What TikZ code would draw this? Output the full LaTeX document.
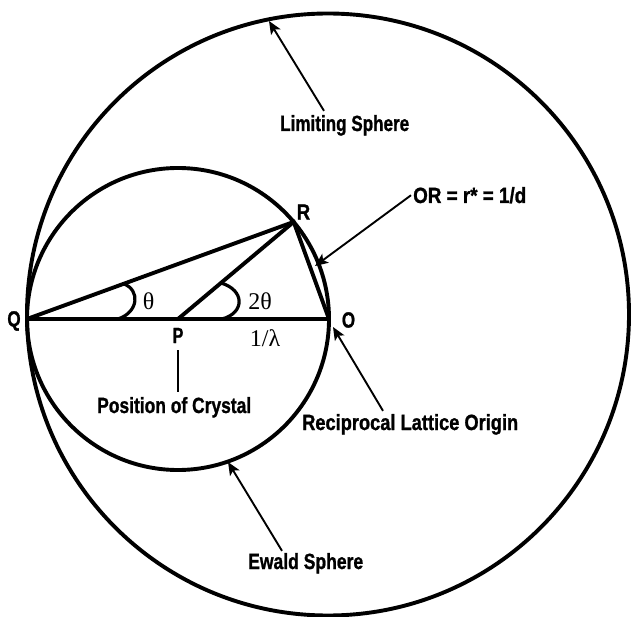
\documentclass[tikz,border=0pt]{standalone}
\usepackage{fontspec}
\setmainfont{Liberation Serif}
\newfontfamily\labfont[FakeBold=1.2]{Liberation Sans}
\usetikzlibrary{arrows.meta}
\newcommand{\lab}[2]{\resizebox{#1}{\height}{\labfont\bfseries\fontsize{22}{26}\selectfont #2}}
\begin{document}
\begin{tikzpicture}[x=1pt,y=-1pt,
  geo/.style={line width=3.9pt, line join=miter},
  anglearc/.style={line width=3.2pt},
  pointer/.style={line width=1.9pt,-{Stealth[length=13pt,width=11pt,inset=3pt]}},
  pline/.style={line width=2.4pt},
  lbl/.style={inner sep=0pt},
  greek/.style={inner sep=0pt, font=\fontsize{24}{28}\selectfont}]
\useasboundingbox (0,0) rectangle (631,617);
% geometry
\coordinate (C) at (328,314.5);
\coordinate (P) at (178,319);
\coordinate (Q) at (27,319);
\coordinate (O) at (329,319);
\coordinate (R) at (293.7,221.9);
\draw[geo] (C) circle (301pt);
\draw[geo] (P) circle (151pt);
\draw[geo] (Q) -- (O);
\draw[geo] (Q) -- (R) -- (O);
\draw[geo] (P) -- (R);
% angle marks
\draw[anglearc] (124,284) .. controls (140,290) and (139,312) .. (118,319);
\draw[anglearc] (221,283) .. controls (245,290) and (245,313) .. (222,319);
\node[greek] (th) at (148.5,301.5) {θ};
\node[greek] (tth) at (260,301) {2θ};
\node[greek] (lam) at (265,338) {1/λ};
% point labels
\node[lbl] (qlab) at (14,321) {\lab{13.3pt}{Q}};
\node[lbl] (rlab) at (303.5,212) {\lab{13.3pt}{R}};
\node[lbl] (olab) at (348.5,320) {\lab{13.3pt}{O}};
\node[lbl] (plab) at (178,335.5) {\lab{10.7pt}{P}};
% text labels
\node[lbl, anchor=base west] (lim) at (280,131) {\lab{129pt}{Limiting Sphere}};
\node[lbl, anchor=base west] (orl) at (413,203) {\lab{113pt}{OR = r* = 1/d}};
\node[lbl, anchor=base west] (rec) at (302,430) {\lab{216pt}{Reciprocal Lattice Origin}};
\node[lbl, anchor=base west] (pos) at (97,413) {\lab{154pt}{Position of Crystal}};
\node[lbl, anchor=base west] (ewl) at (248,569) {\lab{115pt}{Ewald Sphere}};
% arrow tips
\coordinate (limtip) at (269,21);
\coordinate (ortip) at (315,266);
\coordinate (rectip) at (333,327);
\coordinate (ewtip) at (228,462);
\draw[pointer] ([xshift=44pt,yshift=4pt]lim.north west) -- (limtip);
\draw[pointer] ([xshift=-2pt]orl.west) -- (ortip);
\draw[pointer] ([xshift=81pt,yshift=3pt]rec.north west) -- (rectip);
\draw[pointer] ([xshift=34pt,yshift=2pt]ewl.north west) -- (ewtip);
% crystal pointer
\path (plab.south |- pos.north) coordinate (posn);
\draw[pline] ([yshift=-7pt]plab.south) -- ([yshift=5pt]posn);
\end{tikzpicture}
\end{document}
